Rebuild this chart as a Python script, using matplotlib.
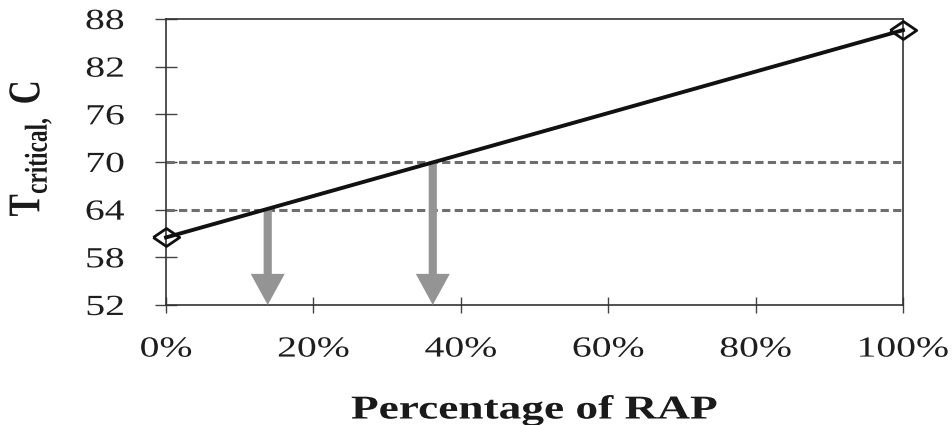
import matplotlib
matplotlib.use("Agg")
import matplotlib.pyplot as plt
from matplotlib.ticker import FuncFormatter
from matplotlib.patheffects import AbstractPathEffect
from matplotlib.transforms import Affine2D

plt.rcParams['font.family'] = ['Liberation Serif', 'DejaVu Serif']
plt.rcParams['mathtext.fontset'] = 'custom'
plt.rcParams['mathtext.rm'] = 'Liberation Serif'
plt.rcParams['mathtext.bf'] = 'Liberation Serif:bold'

rap_pct = [0, 100]
t_critical = [60.5, 86.6]
pg_limits = [64, 70]
arrow_x = [13.8, 36.2]
x_ticks = [0, 20, 40, 60, 80, 100]
y_ticks = [52, 58, 64, 70, 76, 82, 88]

STRETCH = 1.36


class HStretch(AbstractPathEffect):
    # the source picture is stretched sideways, so widen the glyphs to match
    def __init__(self, s, anchor='center'):
        super().__init__()
        self.s = s
        self.anchor = anchor

    def draw_path(self, renderer, gc, tpath, affine, rgbFace=None):
        ext = tpath.get_extents(affine)
        if self.anchor == 'right':
            cx = ext.x1
        else:
            cx = (ext.x0 + ext.x1) / 2
        t = affine + Affine2D().translate(-cx, 0).scale(self.s, 1).translate(cx, 0)
        renderer.draw_path(gc, tpath, t, rgbFace)


fig = plt.figure(figsize=(9.53, 4.25), dpi=100)
ax = fig.add_axes([0.1742, 0.2824, 0.7733, 0.6729])

# dashed grade limits
for lim in pg_limits:
    ax.plot([0, 100], [lim, lim], color='#6e6e6e', linestyle=(0, (2.7, 1.4)),
            linewidth=2.2, zorder=2)

# arrows down from intersections
for xa, lim in zip(arrow_x, pg_limits):
    ax.annotate('', xy=(xa, 52), xytext=(xa, lim),
                arrowprops=dict(arrowstyle='simple,head_length=1.6,head_width=1.75,tail_width=0.42',
                                color='#949494', mutation_scale=14,
                                shrinkA=0, shrinkB=0, linewidth=0),
                zorder=3)

diamond = [(-1, 0), (0, 0.68), (1, 0), (0, -0.68), (-1, 0)]
ax.plot(rap_pct, t_critical, color='#111111', linewidth=2.8, marker=diamond,
        markersize=19, markerfacecolor='none', markeredgecolor='#111111',
        markeredgewidth=2.0, clip_on=False, zorder=4)

ax.set_xlim(0, 100)
ax.set_ylim(52, 88)
ax.set_xticks(x_ticks)
ax.set_yticks(y_ticks)
ax.xaxis.set_major_formatter(FuncFormatter(lambda v, p: f"{int(v)}%"))
ax.tick_params(direction='inout', width=1, color='#444444',
               labelsize=21, labelcolor='#1e1e1e')
ax.tick_params(axis='x', length=11.5, pad=17)
ax.tick_params(axis='y', length=16, pad=22)
for s in ax.spines.values():
    s.set_linewidth(1.2)
    s.set_color('#333333')

for lbl in ax.get_xticklabels():
    lbl.set_path_effects([HStretch(STRETCH)])
for lbl in ax.get_yticklabels():
    lbl.set_path_effects([HStretch(STRETCH, anchor='right')])

ax.set_xlabel('Percentage of RAP', fontsize=24, fontweight='bold', labelpad=23,
              color='#1a1a1a', path_effects=[HStretch(STRETCH)])
ax.set_ylabel(r'$\mathbf{T}_{\mathbf{critical,}}$' + ' C', fontsize=24,
              fontweight='bold', color='#1a1a1a', va='center',
              path_effects=[HStretch(STRETCH)])
ax.yaxis.set_label_coords(-0.183, 0.547)

fig.savefig('out.png', dpi=100)
